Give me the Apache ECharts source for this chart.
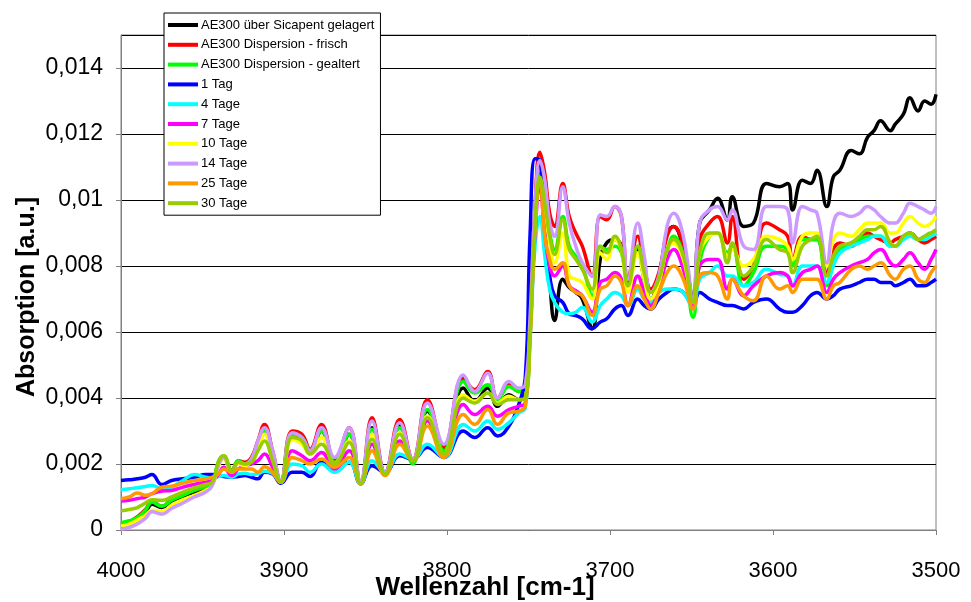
<!DOCTYPE html>
<html>
<head>
<meta charset="utf-8">
<title>Absorption</title>
<script src="https://cdn.jsdelivr.net/npm/echarts@6/dist/echarts.min.js"></script>
<style>
  html, body { margin: 0; padding: 0; background: #fff; }
  #chart { width: 971px; height: 602px; }
</style>
</head>
<body>
<div id="chart"></div>
<script>
// Wellenzahl [cm-1], shared by all series
const wavenumbers = [
  4000, 3995, 3990, 3985, 3981, 3975, 3969, 3962, 3955, 3948,
  3944, 3940, 3937, 3932, 3928, 3924, 3920, 3916, 3912, 3907,
  3902, 3895, 3889, 3884, 3877, 3869, 3860, 3853, 3846, 3838,
  3829, 3821, 3812, 3802, 3790, 3783, 3775, 3769, 3762, 3756,
  3752, 3749, 3746, 3743, 3740, 3737, 3734, 3729, 3725, 3721,
  3717, 3711, 3706, 3702, 3697, 3693, 3689, 3683, 3679, 3675,
  3670, 3665, 3661, 3655, 3649, 3645, 3639, 3634, 3628, 3625,
  3618, 3612, 3604, 3596, 3591, 3588, 3582, 3577, 3573, 3567,
  3563, 3559, 3552, 3547, 3542, 3538, 3534, 3528, 3525, 3520,
  3516, 3511, 3507, 3503, 3500,
]

const aeSicapent = [
  0.00012, 0.00018, 0.00030, 0.00052, 0.00078, 0.00068, 0.00088, 0.00102, 0.00115, 0.00128,
  0.00140, 0.00200, 0.00220, 0.00178, 0.00205, 0.00200, 0.00215, 0.00260, 0.00305, 0.00230,
  0.00145, 0.00285, 0.00275, 0.00235, 0.00300, 0.00205, 0.00290, 0.00140, 0.00310, 0.00170,
  0.00320, 0.00210, 0.00360, 0.00235, 0.00430, 0.00390, 0.00430, 0.00375, 0.00410, 0.00395,
  0.00410, 0.00630, 0.00960, 0.01050, 0.00900, 0.00750, 0.00635, 0.00760, 0.00735, 0.00720,
  0.00700, 0.00610, 0.00820, 0.00870, 0.00880, 0.00860, 0.00750, 0.00850, 0.00760, 0.00700,
  0.00770, 0.00900, 0.00920, 0.00850, 0.00700, 0.00930, 0.00970, 0.01005, 0.00940, 0.01010,
  0.00920, 0.00930, 0.01050, 0.01040, 0.01050, 0.00970, 0.01060, 0.01050, 0.01090, 0.00980,
  0.01070, 0.01090, 0.01150, 0.01140, 0.01190, 0.01210, 0.01240, 0.01210, 0.01230, 0.01260,
  0.01310, 0.01270, 0.01300, 0.01290, 0.01320,
]

const aeFrisch = [
  0.00018, 0.00025, 0.00040, 0.00062, 0.00088, 0.00072, 0.00092, 0.00108, 0.00120, 0.00130,
  0.00140, 0.00205, 0.00220, 0.00180, 0.00210, 0.00205, 0.00220, 0.00270, 0.00320, 0.00240,
  0.00148, 0.00300, 0.00290, 0.00245, 0.00320, 0.00210, 0.00310, 0.00145, 0.00340, 0.00175,
  0.00335, 0.00215, 0.00395, 0.00250, 0.00460, 0.00425, 0.00480, 0.00400, 0.00440, 0.00420,
  0.00430, 0.00650, 0.00980, 0.01145, 0.01080, 0.00960, 0.00920, 0.01050, 0.00950, 0.00900,
  0.00860, 0.00770, 0.00950, 0.00940, 0.00980, 0.00950, 0.00760, 0.00890, 0.00800, 0.00730,
  0.00780, 0.00890, 0.00920, 0.00860, 0.00690, 0.00880, 0.00930, 0.00950, 0.00870, 0.00950,
  0.00760, 0.00800, 0.00930, 0.00910, 0.00890, 0.00820, 0.00890, 0.00880, 0.00880, 0.00780,
  0.00850, 0.00870, 0.00860, 0.00880, 0.00900, 0.00890, 0.00880, 0.00870, 0.00880, 0.00890,
  0.00900, 0.00880, 0.00870, 0.00880, 0.00890,
]

const aeGealtert = [
  0.00022, 0.00028, 0.00038, 0.00060, 0.00085, 0.00072, 0.00090, 0.00105, 0.00120, 0.00132,
  0.00145, 0.00210, 0.00225, 0.00180, 0.00210, 0.00200, 0.00215, 0.00260, 0.00300, 0.00230,
  0.00145, 0.00290, 0.00280, 0.00240, 0.00300, 0.00205, 0.00290, 0.00140, 0.00305, 0.00170,
  0.00310, 0.00200, 0.00365, 0.00240, 0.00450, 0.00415, 0.00440, 0.00395, 0.00435, 0.00420,
  0.00420, 0.00630, 0.00930, 0.01080, 0.01000, 0.00900, 0.00850, 0.00950, 0.00860, 0.00830,
  0.00800, 0.00710, 0.00860, 0.00850, 0.00860, 0.00840, 0.00740, 0.00860, 0.00760, 0.00670,
  0.00730, 0.00840, 0.00890, 0.00830, 0.00645, 0.00810, 0.00890, 0.00900, 0.00840, 0.00860,
  0.00740, 0.00780, 0.00860, 0.00860, 0.00850, 0.00800, 0.00880, 0.00880, 0.00880, 0.00740,
  0.00820, 0.00850, 0.00870, 0.00880, 0.00890, 0.00890, 0.00890, 0.00860, 0.00860, 0.00890,
  0.00900, 0.00880, 0.00890, 0.00900, 0.00900,
]

const tag1 = [
  0.00150, 0.00152, 0.00155, 0.00160, 0.00168, 0.00138, 0.00150, 0.00155, 0.00160, 0.00168,
  0.00168, 0.00165, 0.00162, 0.00160, 0.00162, 0.00165, 0.00160, 0.00155, 0.00175, 0.00170,
  0.00142, 0.00175, 0.00175, 0.00162, 0.00205, 0.00190, 0.00205, 0.00140, 0.00195, 0.00175,
  0.00225, 0.00215, 0.00250, 0.00220, 0.00300, 0.00280, 0.00310, 0.00285, 0.00315, 0.00380,
  0.00460, 0.00900, 0.01125, 0.01120, 0.00880, 0.00770, 0.00710, 0.00690, 0.00655, 0.00650,
  0.00640, 0.00610, 0.00630, 0.00640, 0.00670, 0.00680, 0.00650, 0.00700, 0.00680, 0.00670,
  0.00700, 0.00720, 0.00730, 0.00720, 0.00680, 0.00720, 0.00700, 0.00690, 0.00680, 0.00680,
  0.00670, 0.00690, 0.00700, 0.00670, 0.00660, 0.00660, 0.00680, 0.00710, 0.00720, 0.00700,
  0.00710, 0.00730, 0.00740, 0.00750, 0.00760, 0.00760, 0.00750, 0.00750, 0.00740, 0.00750,
  0.00760, 0.00740, 0.00740, 0.00750, 0.00760,
]

const tage4 = [
  0.00122, 0.00125, 0.00128, 0.00132, 0.00135, 0.00125, 0.00130, 0.00150, 0.00168, 0.00160,
  0.00158, 0.00162, 0.00165, 0.00160, 0.00170, 0.00172, 0.00168, 0.00170, 0.00178, 0.00172,
  0.00145, 0.00200, 0.00195, 0.00175, 0.00200, 0.00175, 0.00205, 0.00140, 0.00210, 0.00175,
  0.00230, 0.00215, 0.00260, 0.00220, 0.00320, 0.00300, 0.00330, 0.00305, 0.00325, 0.00355,
  0.00370, 0.00580, 0.00860, 0.00950, 0.00830, 0.00730, 0.00690, 0.00660, 0.00655, 0.00660,
  0.00675, 0.00630, 0.00680, 0.00700, 0.00720, 0.00710, 0.00680, 0.00730, 0.00700, 0.00690,
  0.00720, 0.00730, 0.00730, 0.00720, 0.00670, 0.00760, 0.00780, 0.00800, 0.00770, 0.00770,
  0.00740, 0.00750, 0.00790, 0.00775, 0.00770, 0.00740, 0.00800, 0.00800, 0.00800, 0.00750,
  0.00800, 0.00840, 0.00860, 0.00870, 0.00880, 0.00890, 0.00890, 0.00860, 0.00860, 0.00880,
  0.00890, 0.00880, 0.00880, 0.00890, 0.00900,
]

const tage7 = [
  0.00088, 0.00090, 0.00095, 0.00100, 0.00110, 0.00118, 0.00120, 0.00130, 0.00138, 0.00145,
  0.00150, 0.00170, 0.00190, 0.00165, 0.00185, 0.00195, 0.00200, 0.00210, 0.00230, 0.00190,
  0.00145, 0.00240, 0.00225, 0.00210, 0.00235, 0.00185, 0.00240, 0.00145, 0.00260, 0.00170,
  0.00270, 0.00210, 0.00330, 0.00225, 0.00380, 0.00350, 0.00375, 0.00345, 0.00365, 0.00375,
  0.00385, 0.00600, 0.00900, 0.01040, 0.00900, 0.00800, 0.00770, 0.00800, 0.00740, 0.00725,
  0.00710, 0.00660, 0.00750, 0.00760, 0.00780, 0.00760, 0.00680, 0.00770, 0.00720, 0.00680,
  0.00730, 0.00820, 0.00850, 0.00790, 0.00680, 0.00800, 0.00820, 0.00820, 0.00730, 0.00760,
  0.00710, 0.00740, 0.00770, 0.00780, 0.00770, 0.00740, 0.00780, 0.00790, 0.00800, 0.00720,
  0.00760, 0.00780, 0.00800, 0.00810, 0.00820, 0.00840, 0.00850, 0.00810, 0.00800, 0.00820,
  0.00840, 0.00810, 0.00790, 0.00820, 0.00850,
]

const tage10 = [
  0.00012, 0.00018, 0.00030, 0.00045, 0.00060, 0.00055, 0.00075, 0.00092, 0.00105, 0.00120,
  0.00135, 0.00195, 0.00215, 0.00175, 0.00200, 0.00195, 0.00210, 0.00245, 0.00290, 0.00220,
  0.00145, 0.00275, 0.00260, 0.00230, 0.00280, 0.00200, 0.00270, 0.00140, 0.00290, 0.00170,
  0.00295, 0.00210, 0.00345, 0.00230, 0.00410, 0.00390, 0.00415, 0.00385, 0.00405, 0.00395,
  0.00400, 0.00600, 0.00920, 0.01060, 0.00980, 0.00870, 0.00810, 0.00900, 0.00770, 0.00760,
  0.00750, 0.00700, 0.00840, 0.00820, 0.00880, 0.00850, 0.00720, 0.00840, 0.00760, 0.00700,
  0.00750, 0.00850, 0.00870, 0.00820, 0.00690, 0.00840, 0.00890, 0.00900, 0.00830, 0.00850,
  0.00800, 0.00820, 0.00890, 0.00880, 0.00860, 0.00820, 0.00890, 0.00900, 0.00900, 0.00800,
  0.00880, 0.00900, 0.00890, 0.00910, 0.00930, 0.00930, 0.00930, 0.00900, 0.00900, 0.00930,
  0.00950, 0.00930, 0.00920, 0.00930, 0.00950,
]

const tage14 = [
  0.00002, 0.00008, 0.00018, 0.00035, 0.00055, 0.00048, 0.00065, 0.00082, 0.00100, 0.00115,
  0.00135, 0.00200, 0.00220, 0.00175, 0.00205, 0.00200, 0.00215, 0.00270, 0.00310, 0.00240,
  0.00150, 0.00295, 0.00280, 0.00240, 0.00310, 0.00220, 0.00310, 0.00150, 0.00330, 0.00175,
  0.00325, 0.00215, 0.00385, 0.00260, 0.00470, 0.00420, 0.00475, 0.00400, 0.00450, 0.00430,
  0.00440, 0.00650, 0.00980, 0.01120, 0.01060, 0.00930, 0.00890, 0.01040, 0.00930, 0.00860,
  0.00810, 0.00770, 0.00955, 0.00950, 0.00980, 0.00950, 0.00760, 0.00930, 0.00830, 0.00720,
  0.00770, 0.00920, 0.00960, 0.00890, 0.00700, 0.00930, 0.00970, 0.00980, 0.00940, 0.00970,
  0.00860, 0.00850, 0.00980, 0.00980, 0.00970, 0.00870, 0.00980, 0.00970, 0.00960, 0.00810,
  0.00930, 0.00960, 0.00950, 0.00960, 0.00980, 0.00970, 0.00950, 0.00930, 0.00930, 0.00960,
  0.00990, 0.00980, 0.00970, 0.00960, 0.00980,
]

const tage25 = [
  0.00095, 0.00100, 0.00112, 0.00105, 0.00110, 0.00130, 0.00133, 0.00142, 0.00150, 0.00155,
  0.00160, 0.00170, 0.00185, 0.00175, 0.00185, 0.00185, 0.00185, 0.00175, 0.00192, 0.00175,
  0.00145, 0.00220, 0.00210, 0.00200, 0.00215, 0.00190, 0.00220, 0.00140, 0.00240, 0.00165,
  0.00260, 0.00210, 0.00315, 0.00220, 0.00350, 0.00320, 0.00365, 0.00320, 0.00355, 0.00360,
  0.00375, 0.00580, 0.00920, 0.01060, 0.00890, 0.00820, 0.00790, 0.00810, 0.00740, 0.00720,
  0.00710, 0.00650, 0.00730, 0.00740, 0.00770, 0.00750, 0.00680, 0.00740, 0.00700, 0.00670,
  0.00720, 0.00780, 0.00800, 0.00760, 0.00670, 0.00770, 0.00780, 0.00770, 0.00700, 0.00760,
  0.00710, 0.00695, 0.00770, 0.00730, 0.00740, 0.00720, 0.00760, 0.00760, 0.00760, 0.00700,
  0.00740, 0.00750, 0.00790, 0.00800, 0.00790, 0.00800, 0.00810, 0.00770, 0.00760, 0.00790,
  0.00800, 0.00760, 0.00750, 0.00780, 0.00800,
]

const tage30 = [
  0.00058, 0.00062, 0.00068, 0.00082, 0.00092, 0.00090, 0.00100, 0.00115, 0.00128, 0.00138,
  0.00145, 0.00210, 0.00225, 0.00178, 0.00205, 0.00200, 0.00205, 0.00240, 0.00270, 0.00210,
  0.00145, 0.00280, 0.00270, 0.00230, 0.00260, 0.00200, 0.00265, 0.00140, 0.00275, 0.00170,
  0.00290, 0.00210, 0.00340, 0.00230, 0.00400, 0.00385, 0.00415, 0.00380, 0.00395, 0.00395,
  0.00400, 0.00600, 0.00920, 0.01070, 0.00990, 0.00890, 0.00835, 0.00940, 0.00850, 0.00820,
  0.00790, 0.00730, 0.00860, 0.00840, 0.00890, 0.00850, 0.00740, 0.00860, 0.00780, 0.00720,
  0.00760, 0.00850, 0.00880, 0.00830, 0.00690, 0.00840, 0.00900, 0.00900, 0.00810, 0.00870,
  0.00770, 0.00800, 0.00880, 0.00850, 0.00840, 0.00780, 0.00860, 0.00880, 0.00890, 0.00770,
  0.00830, 0.00860, 0.00870, 0.00890, 0.00910, 0.00910, 0.00920, 0.00870, 0.00860, 0.00890,
  0.00900, 0.00880, 0.00890, 0.00900, 0.00910,
]

const seriesNames = [
  'AE300 über Sicapent gelagert',
  'AE300 Dispersion - frisch',
  'AE300 Dispersion - gealtert',
  '1 Tag',
  '4 Tage',
  '7 Tage',
  '10 Tage',
  '14 Tage',
  '25 Tage',
  '30 Tage',
]
const seriesValues = [aeSicapent, aeFrisch, aeGealtert, tag1, tage4, tage7, tage10, tage14, tage25, tage30]
const seriesColors = ['#000000', '#ff0000', '#00ff00', '#0000ff', '#00ffff', '#ff00ff', '#ffff00', '#cc99ff', '#ff9900', '#99cc00']

const FONT = '"Liberation Sans", Arial, sans-serif'

// 0.014 -> "0,014"
const commaLabel = v => String(+v.toFixed(4)).replace('.', ',')

const chart = echarts.init(document.getElementById('chart'), null, { renderer: 'canvas' })

chart.setOption({
  animation: false,
  backgroundColor: '#ffffff',
  grid: {
    left: 121,
    right: 35,
    top: 35,
    bottom: 72,
    show: true,
    borderColor: '#808080',
    borderWidth: 1,
  },
  legend: {
    data: seriesNames,
    orient: 'vertical',
    left: 164,
    top: 13,
    icon: 'rect',
    itemWidth: 30,
    itemHeight: 4,
    itemGap: 5.8,
    padding: [5, 6, 5, 4],
    backgroundColor: '#ffffff',
    borderColor: '#000000',
    borderWidth: 1,
    textStyle: { fontFamily: FONT, fontSize: 13, color: '#000', lineHeight: 14, padding: [0, 0, 0, -2] },
  },
  xAxis: {
    type: 'value',
    inverse: true,
    min: 3500,
    max: 4000,
    interval: 100,
    axisLine: { lineStyle: { color: '#808080', width: 1 } },
    axisTick: { show: true, inside: false, length: 5, lineStyle: { color: '#808080' } },
    axisLabel: { fontFamily: FONT, fontSize: 22, color: '#000', margin: 30, formatter: v => String(v) },
    splitLine: { show: false },
  },
  yAxis: {
    type: 'value',
    min: 0,
    max: 0.015,
    interval: 0.002,
    axisLine: { show: true, lineStyle: { color: '#808080', width: 1 } },
    axisTick: { show: true, inside: false, length: 5, lineStyle: { color: '#808080' } },
    axisLabel: {
      fontFamily: FONT,
      fontSize: 23,
      color: '#000',
      margin: 18,
      showMaxLabel: false,
      formatter: commaLabel,
    },
    splitLine: { show: true, lineStyle: { color: '#000000', width: 1 } },
  },
  graphic: [
    {
      type: 'text',
      x: 27,
      y: 297,
      rotation: Math.PI / 2,
      style: {
        text: 'Absorption [a.u.]',
        font: 'bold 25px ' + FONT,
        fill: '#000',
        align: 'center',
        verticalAlign: 'middle',
      },
    },
    {
      type: 'text',
      x: 485,
      y: 588,
      style: {
        text: 'Wellenzahl [cm-1]',
        font: 'bold 26px ' + FONT,
        fill: '#000',
        align: 'center',
        verticalAlign: 'middle',
      },
    },
  ],
  series: seriesNames.map((name, i) => ({
    name,
    type: 'line',
    data: wavenumbers.map((wn, k) => [wn, seriesValues[i][k]]),
    showSymbol: false,
    smooth: 0.45,
    color: seriesColors[i],
    lineStyle: { width: 3.5, color: seriesColors[i] },
    emphasis: { disabled: true },
  })),
})
</script>
</body>
</html>
